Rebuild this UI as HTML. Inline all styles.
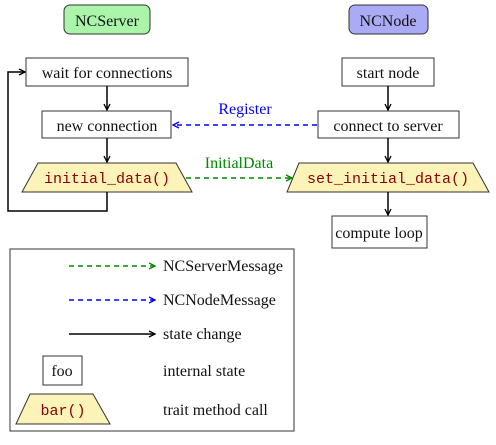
<!DOCTYPE html>
<html><head><style>body{margin:0;background:#fff} svg text{font-family:"Liberation Serif","DejaVu Serif","Noto Serif CJK SC",serif;font-size:16px} svg .c{font-family:"Liberation Mono","DejaVu Sans Mono",monospace;font-size:15px;fill:#8b0000}</style></head><body>
<svg width="496" height="440" xmlns="http://www.w3.org/2000/svg">
<defs>
<marker id="ak" markerWidth="8" markerHeight="8" refX="7" refY="4" orient="auto" markerUnits="userSpaceOnUse"><path d="M1,1 L7,4 L1,7" fill="none" stroke="#000" stroke-width="1.3"/></marker>
<marker id="ab" markerWidth="8" markerHeight="8" refX="7" refY="4" orient="auto" markerUnits="userSpaceOnUse"><path d="M1,1 L7,4 L1,7" fill="none" stroke="#00f" stroke-width="1.3"/></marker>
<marker id="ag" markerWidth="8" markerHeight="8" refX="7" refY="4" orient="auto" markerUnits="userSpaceOnUse"><path d="M1,1 L7,4 L1,7" fill="none" stroke="#080" stroke-width="1.3"/></marker>
</defs>
<g stroke="#333" stroke-width="1">
<rect x="64" y="5" width="86" height="29" rx="6" fill="#aaf5aa"/>
<rect x="349" y="5" width="79" height="29" rx="6" fill="#aaaaf5"/>
<rect x="26" y="58" width="162" height="28" fill="#fff"/>
<rect x="42" y="111" width="129" height="27" fill="#fff"/>
<polygon points="38,163 176,163 192,192 22,192" fill="#fcf3b8"/>
<rect x="342" y="58" width="92" height="28" fill="#fff"/>
<rect x="318" y="111" width="141" height="27" fill="#fff"/>
<polygon points="299,163 473,163 489,192 287,192" fill="#fcf3b8"/>
<rect x="332" y="216" width="95" height="32" fill="#fff"/>
<rect x="10" y="249" width="284" height="182" fill="none"/>
<rect x="43" y="356" width="39" height="29" fill="#fff"/>
<polygon points="30,394 93,394 110,424 16,424" fill="#fcf3b8"/>
</g>
<g stroke="#000" stroke-width="1.5" fill="none">
<line x1="107" y1="86" x2="107" y2="110" marker-end="url(#ak)"/>
<line x1="107" y1="138" x2="107" y2="162" marker-end="url(#ak)"/>
<polyline points="107,192 107,211 8,211 8,72 25,72" marker-end="url(#ak)"/>
<line x1="388" y1="86" x2="388" y2="110" marker-end="url(#ak)"/>
<line x1="388" y1="138" x2="388" y2="162" marker-end="url(#ak)"/>
<line x1="388" y1="192" x2="388" y2="215" marker-end="url(#ak)"/>
<line x1="69" y1="334" x2="155" y2="334" marker-end="url(#ak)"/>
</g>
<g stroke-width="1.5" fill="none" stroke-dasharray="5,4">
<line x1="317" y1="125" x2="173" y2="125" stroke="#00f" marker-end="url(#ab)"/>
<line x1="186" y1="178" x2="292" y2="178" stroke="#080" marker-end="url(#ag)"/>
<line x1="69" y1="266" x2="155" y2="266" stroke="#080" marker-end="url(#ag)"/>
<line x1="69" y1="300" x2="155" y2="300" stroke="#00f" marker-end="url(#ab)"/>
</g>
<g text-anchor="middle" fill="#111">
<text x="107" y="26">NCServer</text>
<text x="388" y="26">NCNode</text>
<text x="107" y="78">wait for connections</text>
<text x="107" y="131">new connection</text>
<text x="388" y="78">start node</text>
<text x="388" y="131">connect to server</text>
<text x="379" y="238">compute loop</text>
<text x="62" y="376">foo</text>
</g>
<text x="245" y="114" fill="#00f" text-anchor="middle">Register</text>
<text x="239" y="168" fill="#080" text-anchor="middle">InitialData</text>
<g text-anchor="middle">
<text class="c" x="107" y="183">initial_data()</text>
<text class="c" x="388" y="183">set_initial_data()</text>
<text class="c" x="63" y="415">bar()</text>
</g>
<g fill="#111">
<text x="163" y="271">NCServerMessage</text>
<text x="163" y="305">NCNodeMessage</text>
<text x="163" y="339">state change</text>
<text x="163" y="376">internal state</text>
<text x="163" y="415">trait method call</text>
</g>
</svg>
</body></html>
